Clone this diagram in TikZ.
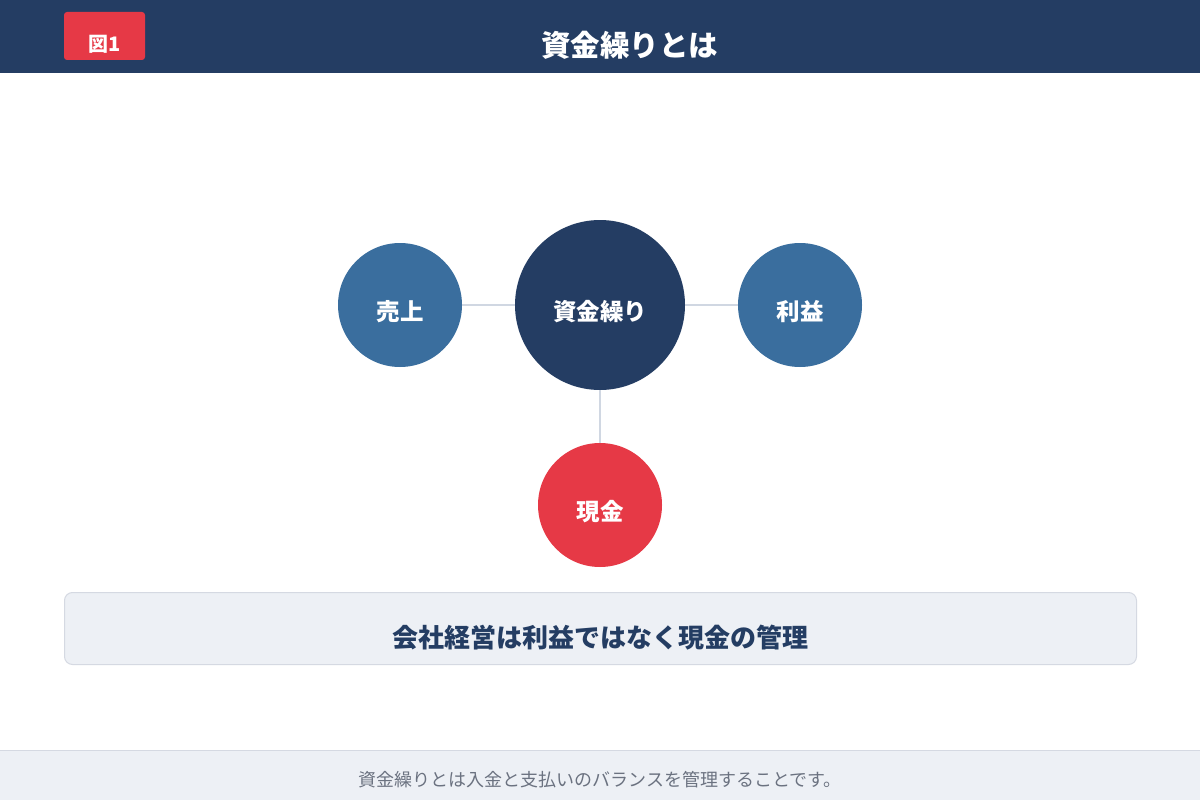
\documentclass[tikz,border=0pt]{standalone}
\usepackage{fontspec}
\newfontfamily\cjk{Noto Sans CJK JP}
\definecolor{navy}{HTML}{243D63}
\definecolor{steel}{HTML}{3A6E9E}
\definecolor{redc}{HTML}{E63946}
\definecolor{pale}{HTML}{EDF0F5}
\definecolor{edgec}{HTML}{D5D9E2}
\definecolor{linec}{HTML}{D0D7E2}
\definecolor{grayt}{HTML}{6B7280}
\tikzset{
  circ/.style={circle, inner sep=0pt, text=white},
  lbl/.style={anchor=base, inner sep=0pt, font=\cjk\bfseries\fontsize{23.5}{23.5}\selectfont, text=white},
  conn/.style={draw=linec, line width=1.5pt}
}
\begin{document}
\begin{tikzpicture}[x=1pt,y=-1pt]
\useasboundingbox (0,0) rectangle (1200,800);
\fill[white] (0,0) rectangle (1200,800);
% header
\fill[navy] (0,0) rectangle (1200,73);
\node[anchor=base, inner sep=0pt, text=white, font=\cjk\bfseries\fontsize{29.5}{29.5}\selectfont] (title) at (629.5,56.5) {資金繰りとは};
% badge
\fill[redc, rounded corners=3pt] (64,12) rectangle (145,60);
\node[anchor=base, inner sep=0pt, text=white, font=\cjk\bfseries\fontsize{20}{20}\selectfont] (badge) at (104.5,51.5) {図1};
% circles
\node[circ, fill=steel, minimum size=124pt] (sales) at (400,305) {};
\node[circ, fill=navy, minimum size=170pt] (core) at (600,305) {};
\node[circ, fill=steel, minimum size=124pt] (profit) at (800,305) {};
\node[circ, fill=redc, minimum size=124pt] (cash) at (600,505) {};
\draw[conn] (sales.east) -- (core.west);
\draw[conn] (core.east) -- (profit.west);
\draw[conn] (core.south) -- (cash.north);
\node[lbl] (tsales) at (400,320.5) {売上};
\node[lbl] (tcore) at (600,320.5) {資金繰り};
\node[lbl] (tprofit) at (800,320.5) {利益};
\node[lbl] (tcash) at (600,520.5) {現金};
% message box
\draw[fill=pale, draw=edgec, line width=1pt, rounded corners=8pt] (64.5,592.5) rectangle (1136.5,664.5);
\node[anchor=base, inner sep=0pt, text=navy, font=\cjk\bfseries\fontsize{26}{26}\selectfont] (msg) at (600,647) {会社経営は利益ではなく現金の管理};
% footer
\fill[pale] (0,750) rectangle (1200,800);
\draw[edgec, line width=1pt] (0,750.5) -- (1200,750.5);
\node[anchor=base, inner sep=0pt, text=grayt, font=\cjk\fontsize{18}{18}\selectfont] (foot) at (600,786) {資金繰りとは入金と支払いのバランスを管理することです。};
\end{tikzpicture}
\end{document}
